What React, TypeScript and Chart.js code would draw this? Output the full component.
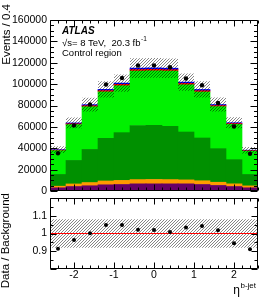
import React, { useEffect, useRef } from "react";
import { Chart, registerables } from "chart.js";
Chart.register(...registerables);

// ---------- data ----------
const binCenters = [-2.4, -2.0, -1.6, -1.2, -0.8, -0.4, 0, 0.4, 0.8, 1.2, 1.6, 2.0, 2.4];
const binWidth = 0.4;
const dataEvents = [35350, 61400, 80900, 99700, 105800, 117400, 117500, 115800, 105300, 99000, 82400, 60400, 34800];
const bkgPurple = [3000, 4200, 4900, 5800, 6100, 6700, 6700, 6700, 6700, 6100, 5200, 4200, 3000];
const bkgOrange = [1500, 2400, 3000, 3600, 3800, 4000, 4100, 4000, 3700, 3500, 3000, 2500, 1800];
const bkgDarkGreen = [11000, 22000, 31000, 39900, 44700, 50600, 50700, 49800, 44800, 40000, 31400, 22600, 10700];
const bkgGreen = [22250, 33550, 39950, 43450, 43900, 50950, 50950, 51650, 44200, 43050, 39350, 33050, 21750];
const bkgRed = [500, 800, 1000, 1200, 1300, 1400, 1400, 1400, 1300, 1200, 1000, 800, 500];
const bkgBlue = [450, 750, 950, 1150, 1200, 1350, 1350, 1350, 1200, 1150, 950, 750, 450];
const relUncertainty = [0.08, 0.08, 0.08, 0.08, 0.08, 0.08, 0.08, 0.08, 0.08, 0.08, 0.08, 0.08, 0.08];
const xTickValues = [-2, -1, 0, 1, 2];
const yTicksMain = [0, 20000, 40000, 60000, 80000, 100000, 120000, 140000, 160000];
const yTicksRatio = [0.9, 1, 1.1];

const FF = '"Liberation Sans", Arial, Helvetica, sans-serif';

function makeHatch(ctx: CanvasRenderingContext2D) {
  const c = document.createElement("canvas");
  c.width = 3;
  c.height = 3;
  const g = c.getContext("2d")!;
  g.strokeStyle = "rgba(0,0,0,0.6)";
  g.lineWidth = 0.8;
  g.beginPath();
  g.moveTo(0, 3); g.lineTo(3, 0);
  g.moveTo(-1, 1); g.lineTo(1, -1);
  g.moveTo(2, 4); g.lineTo(4, 2);
  g.stroke();
  return ctx.createPattern(c, "repeat")!;
}

const stepPoints = (vals: number[]) =>
  vals.flatMap((v, i) => [
    { x: binCenters[i] - binWidth / 2, y: v },
    { x: binCenters[i] + binWidth / 2, y: v },
  ]);

type AxCfg = { xMinor: number; xMajor: number; yMinor: number; yMajor: number; xLen: number[]; yLen: number[] };

function rootAxes(cfg: AxCfg) {
  return {
    id: "rootAxes",
    afterDatasetsDraw(chart: any) {
      const { ctx, chartArea: a, scales } = chart;
      const x = scales.x, y = scales.y;
      ctx.save();
      ctx.strokeStyle = "#000";
      ctx.lineWidth = 1;
      ctx.beginPath();
      const L = Math.round(a.left) + 0.5, R = Math.round(a.right) - 0.5;
      const T = Math.round(a.top) + 0.5, B = Math.round(a.bottom) - 0.5;
      ctx.rect(L, T, R - L, B - T);
      const isMajor = (v: number, m: number) => Math.abs(v / m - Math.round(v / m)) < 1e-6;
      const k0 = Math.ceil(x.min / cfg.xMinor - 1e-9), k1 = Math.floor(x.max / cfg.xMinor + 1e-9);
      for (let k = k0; k <= k1; k++) {
        const v = k * cfg.xMinor;
        const len = isMajor(v, cfg.xMajor) ? cfg.xLen[0] : cfg.xLen[1];
        const px = Math.round(x.getPixelForValue(v)) + 0.5;
        ctx.moveTo(px, B); ctx.lineTo(px, B - len);
        ctx.moveTo(px, T); ctx.lineTo(px, T + len);
      }
      const j0 = Math.ceil(y.min / cfg.yMinor - 1e-9), j1 = Math.floor(y.max / cfg.yMinor + 1e-9);
      for (let j = j0; j <= j1; j++) {
        const v = j * cfg.yMinor;
        const len = isMajor(v, cfg.yMajor) ? cfg.yLen[0] : cfg.yLen[1];
        const py = Math.round(y.getPixelForValue(v)) + 0.5;
        ctx.moveTo(L, py); ctx.lineTo(L + len, py);
        ctx.moveTo(R, py); ctx.lineTo(R - len, py);
      }
      ctx.stroke();
      ctx.restore();
    },
  };
}

const upperText = {
  id: "upperText",
  afterDraw(chart: any) {
    const ctx = chart.ctx;
    ctx.save();
    ctx.fillStyle = "#000";
    ctx.textBaseline = "alphabetic";
    ctx.textAlign = "left";
    ctx.font = `italic bold 10px ${FF}`;
    ctx.fillText("ATLAS", 62, 34);
    ctx.font = `9.5px ${FF}`;
    const s = "√s= 8 TeV,  20.3 fb";
    ctx.fillText(s, 62, 45.5);
    const w = ctx.measureText(s).width;
    ctx.font = `6.5px ${FF}`;
    ctx.fillText("-1", 62 + w + 0.5, 41);
    ctx.font = `9.5px ${FF}`;
    ctx.fillText("Control region", 62, 56);
    ctx.translate(7, 4);
    ctx.rotate(-Math.PI / 2);
    ctx.textAlign = "right";
    ctx.textBaseline = "middle";
    ctx.font = `11.5px ${FF}`;
    ctx.fillText("Events / 0.4", 0, 0);
    ctx.restore();
  },
};

const lowerText = {
  id: "lowerText",
  afterDraw(chart: any) {
    const ctx = chart.ctx;
    ctx.save();
    ctx.fillStyle = "#000";
    ctx.font = `8px ${FF}`;
    ctx.textAlign = "right";
    ctx.textBaseline = "alphabetic";
    const sup = "b-jet";
    ctx.fillText(sup, 256, 108);
    const w = ctx.measureText(sup).width;
    ctx.font = `12px ${FF}`;
    ctx.fillText("η", 256 - w - 0.5, 114);
    ctx.translate(6, 13);
    ctx.rotate(-Math.PI / 2);
    ctx.textAlign = "right";
    ctx.textBaseline = "middle";
    ctx.font = `11.5px ${FF}`;
    ctx.fillText("Data / Background", 0, 0);
    ctx.restore();
  },
};

export default function App() {
  const topRef = useRef<HTMLCanvasElement>(null);
  const botRef = useRef<HTMLCanvasElement>(null);

  useEffect(() => {
    const c1 = topRef.current!;
    const c2 = botRef.current!;
    const hatch1 = makeHatch(c1.getContext("2d")!);
    const hatch2 = makeHatch(c2.getContext("2d")!);

    const total = binCenters.map(
      (_, i) => bkgPurple[i] + bkgOrange[i] + bkgDarkGreen[i] + bkgGreen[i] + bkgRed[i] + bkgBlue[i]
    );
    const bandHi = total.map((t, i) => t * (1 + relUncertainty[i]));
    const bandLo = total.map((t, i) => t * (1 - relUncertainty[i]));
    const ratio = dataEvents.map((d, i) => d / total[i]);
    const ratioHi = relUncertainty.map((u) => 1 + u);
    const ratioLo = relUncertainty.map((u) => 1 - u);

    const bar = (vals: number[], color: string) => ({
      type: "bar" as const,
      data: binCenters.map((x, i) => ({ x, y: vals[i] })),
      backgroundColor: color,
      borderWidth: 0,
      barPercentage: 1,
      categoryPercentage: 1,
      stack: "bkg",
      order: 2,
    });

    const tickFont = { family: FF, size: 10.5 };

    const upper = new Chart(c1, {
      type: "bar",
      data: {
        datasets: [
          bar(bkgPurple, "#660066"),
          bar(bkgOrange, "#ff9900"),
          bar(bkgDarkGreen, "#009000"),
          bar(bkgGreen, "#00f000"),
          bar(bkgRed, "#ff0000"),
          bar(bkgBlue, "#0000ff"),
          {
            type: "line",
            data: stepPoints(bandHi),
            borderWidth: 0,
            pointRadius: 0,
            fill: "+1",
            backgroundColor: hatch1,
            stack: "bandHi",
            order: 1,
          } as any,
          {
            type: "line",
            data: stepPoints(bandLo),
            borderWidth: 0,
            pointRadius: 0,
            fill: false,
            stack: "bandLo",
            order: 1,
          } as any,
          {
            type: "line",
            data: binCenters.map((x, i) => ({ x, y: dataEvents[i] })),
            showLine: false,
            pointRadius: 2.2,
            pointBackgroundColor: "#000",
            pointBorderWidth: 0,
            stack: "data",
            order: 0,
          } as any,
        ],
      },
      options: {
        responsive: false,
        animation: false,
        devicePixelRatio: 1,
        layout: { padding: { left: 0, right: 8, top: 20, bottom: 10 } },
        plugins: { legend: { display: false }, tooltip: { enabled: false } },
        scales: {
          x: {
            type: "linear",
            min: -2.6,
            max: 2.6,
            offset: false,
            stacked: true,
            display: false,
            afterBuildTicks: (s: any) => {
              s.ticks = xTickValues.map((v) => ({ value: v }));
            },
          },
          y: {
            type: "linear",
            min: 0,
            max: 160000,
            stacked: true,
            afterBuildTicks: (s: any) => {
              s.ticks = yTicksMain.map((v) => ({ value: v }));
            },
            afterFit: (s: any) => {
              s.width = 50;
            },
            grid: { display: false, drawTicks: false },
            border: { display: false },
            ticks: { padding: 3, font: tickFont, color: "#000", callback: (v: any) => String(v) },
          },
        },
      } as any,
      plugins: [rootAxes({ xMinor: 0.2, xMajor: 1, yMinor: 5000, yMajor: 20000, xLen: [6, 3], yLen: [7, 3.5] }), upperText],
    });

    const lower = new Chart(c2, {
      type: "line",
      data: {
        datasets: [
          {
            data: binCenters.map((x, i) => ({ x, y: ratio[i] })),
            showLine: false,
            pointRadius: 2,
            pointBackgroundColor: "#000",
            pointBorderWidth: 0,
            order: 0,
          },
          {
            data: [
              { x: -2.6, y: 1 },
              { x: 2.6, y: 1 },
            ],
            borderColor: "#ff0000",
            borderWidth: 1.2,
            pointRadius: 0,
            order: 1,
          },
          {
            data: stepPoints(ratioHi),
            borderWidth: 0,
            pointRadius: 0,
            fill: "+1",
            backgroundColor: hatch2,
            order: 2,
          },
          {
            data: stepPoints(ratioLo),
            borderWidth: 0,
            pointRadius: 0,
            fill: false,
            order: 2,
          },
        ],
      } as any,
      options: {
        responsive: false,
        animation: false,
        devicePixelRatio: 1,
        layout: { padding: { left: 0, right: 8, top: 18, bottom: 0 } },
        plugins: { legend: { display: false }, tooltip: { enabled: false } },
        scales: {
          x: {
            type: "linear",
            min: -2.6,
            max: 2.6,
            offset: false,
            afterBuildTicks: (s: any) => {
              s.ticks = xTickValues.map((v) => ({ value: v }));
            },
            afterFit: (s: any) => {
              s.height = 32;
            },
            grid: { display: false, drawTicks: false },
            border: { display: false },
            ticks: { padding: 0, font: tickFont, color: "#000", maxRotation: 0, autoSkip: false, callback: (v: any) => String(v) },
          },
          y: {
            type: "linear",
            min: 0.8,
            max: 1.2,
            afterBuildTicks: (s: any) => {
              s.ticks = yTicksRatio.map((v) => ({ value: v }));
            },
            afterFit: (s: any) => {
              s.width = 50;
            },
            grid: { display: false, drawTicks: false },
            border: { display: false },
            ticks: { padding: 3, font: tickFont, color: "#000", callback: (v: any) => String(v) },
          },
        },
      } as any,
      plugins: [rootAxes({ xMinor: 0.2, xMajor: 1, yMinor: 0.05, yMajor: 0.1, xLen: [6, 3], yLen: [6, 3] }), lowerText],
    });

    return () => {
      upper.destroy();
      lower.destroy();
    };
  }, []);

  return (
    <div style={{ position: "absolute", left: 0, top: 0, width: 266, height: 301, background: "#fff" }}>
      <canvas ref={topRef} width={266} height={201} style={{ position: "absolute", left: 0, top: 0 }} />
      <canvas ref={botRef} width={266} height={121} style={{ position: "absolute", left: 0, top: 180 }} />
    </div>
  );
}
